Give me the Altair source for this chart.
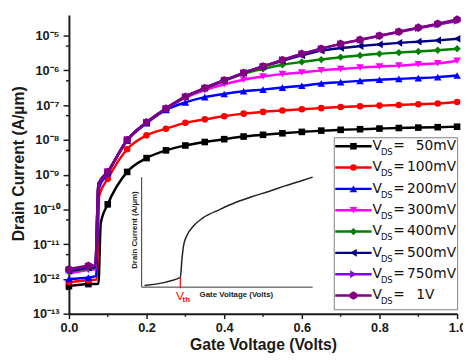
import altair as alt
import pandas as pd

# ---------------- data ----------------
VG = [0.0, 0.05, 0.1, 0.15, 0.2, 0.25, 0.3, 0.35, 0.4, 0.45, 0.5,
      0.55, 0.6, 0.65, 0.7, 0.75, 0.8, 0.85, 0.9, 0.95, 1.0]

SERIES = ["50mV", "100mV", "200mV", "300mV", "400mV", "500mV", "750mV", "1V"]
COLORS = ["#000000", "#ff0000", "#0000ff", "#ff00ff", "#008000", "#000080", "#8000ff", "#800080"]
HEX = "M0,-1L0.866,-0.5L0.866,0.5L0,1L-0.866,0.5L-0.866,-0.5Z"
SHAPES = ["square", "circle", "triangle-up", "triangle-down", "diamond",
          "triangle-left", "triangle-right", HEX]
SIZES = [45, 45, 60, 60, 55, 60, 60, 75]

ID_50 = [6.2e-13, 7.1e-13, 1.4e-10, 1.2e-9, 3.0e-9, 5.0e-9, 6.9e-9, 8.7e-9, 1.05e-8, 1.25e-8, 1.4e-8,
         1.55e-8, 1.7e-8, 1.85e-8, 1.95e-8, 2.03e-8, 2.12e-8, 2.2e-8, 2.26e-8, 2.32e-8, 2.4e-8]
ID_100 = [8.1e-13, 9.2e-13, 7.6e-10, 5.4e-9, 1.35e-8, 2.1e-8, 3.1e-8, 3.9e-8, 4.8e-8, 5.7e-8, 6.4e-8,
          7.0e-8, 7.6e-8, 8.2e-8, 8.8e-8, 9.3e-8, 9.7e-8, 1.01e-7, 1.06e-7, 1.11e-7, 1.23e-7]
ID_200 = [1.0e-12, 1.1e-12, 1.1e-9, 9.5e-9, 3.0e-8, 7.3e-8, 1.2e-7, 1.7e-7, 2.1e-7, 2.5e-7, 2.8e-7,
          3.2e-7, 3.6e-7, 4.2e-7, 4.6e-7, 5.0e-7, 5.4e-7, 5.7e-7, 6.0e-7, 6.4e-7, 7.1e-7]
ID_300 = [1.45e-12, 1.8e-12, 1.2e-9, 1.0e-8, 3.2e-8, 7.8e-8, 1.65e-7, 2.7e-7, 4.0e-7, 5.4e-7, 6.7e-7,
          7.8e-7, 8.7e-7, 1.0e-6, 1.1e-6, 1.2e-6, 1.3e-6, 1.37e-6, 1.5e-6, 1.6e-6, 1.9e-6]
ID_400 = [1.6e-12, 2.0e-12, 1.2e-9, 1.0e-8, 3.2e-8, 7.9e-8, 1.7e-7, 3.0e-7, 5.0e-7, 8.0e-7, 1.1e-6,
          1.45e-6, 1.75e-6, 2.05e-6, 2.4e-6, 2.7e-6, 3.0e-6, 3.25e-6, 3.5e-6, 3.8e-6, 4.2e-6]
ID_500 = [1.7e-12, 2.1e-12, 1.2e-9, 1.0e-8, 3.2e-8, 8.0e-8, 1.75e-7, 3.1e-7, 5.2e-7, 8.5e-7, 1.3e-6,
          1.9e-6, 2.7e-6, 3.7e-6, 4.4e-6, 5.0e-6, 5.6e-6, 6.2e-6, 6.7e-6, 7.3e-6, 8.1e-6]
ID_750 = [1.8e-12, 2.3e-12, 1.2e-9, 1.0e-8, 3.2e-8, 8.0e-8, 1.75e-7, 3.1e-7, 5.2e-7, 8.5e-7, 1.3e-6,
          2.0e-6, 3.0e-6, 4.2e-6, 5.8e-6, 7.5e-6, 9.8e-6, 1.27e-5, 1.63e-5, 2.08e-5, 2.65e-5]
ID_1V = [1.9e-12, 2.4e-12, 1.2e-9, 1.0e-8, 3.2e-8, 8.0e-8, 1.75e-7, 3.1e-7, 5.2e-7, 8.5e-7, 1.3e-6,
         2.0e-6, 3.0e-6, 4.2e-6, 5.8e-6, 7.6e-6, 1.0e-5, 1.3e-5, 1.7e-5, 2.2e-5, 2.9e-5]
CURRENTS = [ID_50, ID_100, ID_200, ID_300, ID_400, ID_500, ID_750, ID_1V]

# turn-on of each curve (unmarked points): end of the off-state, then top of the steep rise
STEP_X = [0.076, 0.072, 0.070, 0.069, 0.068, 0.068, 0.068, 0.068]
STEP_Y = [7.3e-13, 9.6e-13, 1.2e-12, 1.9e-12, 2.1e-12, 2.2e-12, 2.4e-12, 2.5e-12]
KNEE_X = [0.082, 0.078, 0.077, 0.076, 0.076, 0.076, 0.076, 0.076]
KNEE_Y = [4.0e-11, 2.5e-10, 4.0e-10, 5.0e-10, 5.5e-10, 5.5e-10, 5.5e-10, 5.5e-10]

XTICKS = [0.0, 0.2, 0.4, 0.6, 0.8, 1.0]
XMINOR = [0.1, 0.3, 0.5, 0.7, 0.9]
YEXP = [-13, -12, -11, -10, -9, -8, -7, -6, -5]
YMINOR = [5e-13, 5e-12, 5e-11, 5e-10, 5e-9, 5e-8, 5e-7, 5e-6]

# inset schematic (arbitrary units)
INSET_X = [0.017, 0.226, 0.236, 0.245, 0.264, 0.303, 0.36, 0.456, 0.552, 0.648, 0.743, 0.839, 0.935, 1.0]
INSET_Y = [0.015, 0.087, 0.259, 0.378, 0.467, 0.556, 0.631, 0.705, 0.771, 0.824, 0.869, 0.920, 0.967, 1.0]
VTH = 0.226

# ---------------- layout ----------------
W, H = 395, 304
FONT = "Liberation Sans"
AX = "#1a1a1a"

sup = str.maketrans("-0123456789", "⁻⁰¹²³⁴⁵⁶⁷⁸⁹")
YTICKS = [10.0 ** e for e in YEXP]
expr = "''"
for e in YEXP:
    expr = f"(round(log(datum.value)/LN10)=={e})?'10{str(e).translate(sup)}':" + expr

xs = alt.Scale(domain=[0, 1], nice=False, zero=False)
ys = alt.Scale(type="log", domain=[1e-13, 3.94e-5], nice=False)

xaxis = alt.Axis(values=XTICKS, format=".1f", grid=False, tickSize=5, tickWidth=1.5, tickColor=AX,
                 domainColor=AX, domainWidth=2, labelFont=FONT, labelFontWeight="bold",
                 labelFontSize=13, labelColor=AX, labelPadding=3, labelFlush=False,
                 labelOverlap=False, title="Gate Voltage (Volts)", titleFont=FONT,
                 titleFontSize=16, titleFontWeight="bold", titleColor=AX, titleX=W / 2,
                 titleY=31, titleBaseline="middle", titleAlign="center")
yaxis = alt.Axis(values=YTICKS, labelExpr=expr, grid=False, tickSize=6, tickWidth=1.5, tickColor=AX,
                 domainColor=AX, domainWidth=2, labelFont=FONT, labelFontWeight="bold",
                 labelFontSize=13, labelColor=AX, labelPadding=4, labelFlush=False,
                 labelOverlap=False, title="Drain Current (A/µm)", titleFont=FONT,
                 titleFontSize=16, titleFontWeight="bold", titleColor=AX, titleX=-51,
                 titleY=151, titleAngle=270, titleAlign="center", titleBaseline="middle")


def X(f="x"):
    return alt.X(f"{f}:Q", scale=xs, axis=xaxis)


def Y(f="y"):
    return alt.Y(f"{f}:Q", scale=ys, axis=yaxis)


layers = []
for i, name in enumerate(SERIES):
    xv = VG + [STEP_X[i], KNEE_X[i]]
    yv = CURRENTS[i] + [STEP_Y[i], KNEE_Y[i]]
    mk = [True] * len(VG) + [False, False]
    d = pd.DataFrame({"x": xv, "y": yv, "m": mk}).sort_values("x")
    layers.append(alt.Chart(d).mark_line(color=COLORS[i], strokeWidth=2.5, interpolate="monotone")
                  .encode(x=X(), y=Y()))
    layers.append(alt.Chart(d[d["m"]]).mark_point(filled=True, opacity=1, color=COLORS[i],
                                                  shape=SHAPES[i], size=SIZES[i], strokeWidth=0)
                  .encode(x=X(), y=Y()))

# minor ticks
layers.append(alt.Chart(pd.DataFrame({"x": XMINOR})).mark_rule(color=AX, strokeWidth=1.5)
              .encode(x=X(), y=alt.value(H), y2=alt.value(H + 3)))
layers.append(alt.Chart(pd.DataFrame({"y": YMINOR})).mark_rule(color=AX, strokeWidth=1.5)
              .encode(y=Y(), x=alt.value(0), x2=alt.value(-3)))

# custom legend (pixel placement)
LEG_TOP = 133.6
LEG_STEP = 21.7
leg = pd.DataFrame({
    "i": list(range(len(SERIES))),
    "ly": [LEG_TOP + LEG_STEP * i for i in range(len(SERIES))],
    "c": COLORS, "shp": SHAPES, "sz": SIZES, "lbl": SERIES,
})
PY = alt.Y("ly:Q", scale=None, axis=None)
CC = alt.Color("c:N", scale=None, legend=None)
layers.append(alt.Chart(pd.DataFrame({"a": [0]})).mark_rect(fill="white", stroke="#7f7f7f", strokeWidth=1)
              .encode(x=alt.value(270), x2=alt.value(395.5), y=alt.value(125), y2=alt.value(300)))
layers.append(alt.Chart(leg).mark_rule(strokeWidth=2.5)
              .encode(x=alt.value(271), x2=alt.value(308), y=PY, color=CC))
layers.append(alt.Chart(leg).mark_point(filled=True, opacity=1, strokeWidth=0)
              .encode(x=alt.value(289.5), y=PY, color=CC,
                      shape=alt.Shape("shp:N", scale=None, legend=None),
                      size=alt.Size("sz:Q", scale=None, legend=None)))
LFONT = "DejaVu Sans"
layers.append(alt.Chart(leg).mark_text(font=LFONT, fontSize=14, align="left", baseline="middle", color="#111")
              .encode(x=alt.value(309), y=PY, text=alt.value("V")))
layers.append(alt.Chart(leg).mark_text(font=LFONT, fontSize=8.5, align="left", baseline="middle", dy=6, color="#111")
              .encode(x=alt.value(317.5), y=PY, text=alt.value("DS")))
layers.append(alt.Chart(leg).mark_text(font=LFONT, fontSize=14, align="left", baseline="middle", color="#111")
              .encode(x=alt.value(330), y=PY, text=alt.value("=")))
layers.append(alt.Chart(leg).transform_filter("datum.i < 7")
              .mark_text(font=LFONT, fontSize=14, align="right", baseline="middle", color="#111")
              .encode(x=alt.value(394), y=PY, text="lbl:N"))
layers.append(alt.Chart(leg).transform_filter("datum.i == 7")
              .mark_text(font=LFONT, fontSize=14, align="right", baseline="middle", color="#111")
              .encode(x=alt.value(372), y=PY, text="lbl:N"))

main = alt.layer(*layers)

# ---------------- inset ----------------
ixs = alt.Scale(domain=[0, 1], range=[74, 248], nice=False, zero=False)
iys = alt.Scale(domain=[0, 1], range=[277, 165], nice=False, zero=False)


def IX(f="x"):
    return alt.X(f"{f}:Q", scale=ixs, axis=None)


def IY(f="y"):
    return alt.Y(f"{f}:Q", scale=iys, axis=None)


inset_axes = pd.DataFrame({"x": [0, 0], "y": [0, 0], "x2": [0, 1], "y2": [1, 0]})
inset_curve = pd.DataFrame({"x": INSET_X, "y": INSET_Y})
vth_line = pd.DataFrame({"x": [VTH], "y": [-0.01], "y2": [INSET_Y[1]]})
inset_txt = pd.DataFrame({
    "x": [0.339], "y": [-0.094], "t": ["Gate Voltage (Volts)"]})
inset = alt.layer(
    alt.Chart(inset_axes).mark_rule(color="#333", strokeWidth=1)
    .encode(x=IX(), y=IY(), x2="x2:Q", y2="y2:Q"),
    alt.Chart(inset_curve).mark_line(color="#222", strokeWidth=1.5, interpolate="monotone")
    .encode(x=IX(), y=IY()),
    alt.Chart(vth_line).mark_rule(color="#ff0000", strokeWidth=1.2)
    .encode(x=IX(), y=IY(), y2="y2:Q"),
    alt.Chart(inset_txt).mark_text(font=FONT, fontSize=8, fontWeight="bold", align="left",
                                   baseline="alphabetic", color="#222")
    .encode(x=IX(), y=IY(), text="t:N"),
    alt.Chart(pd.DataFrame({"x": [-0.04], "y": [0.518], "t": ["Drain Current (A/µm)"]}))
    .mark_text(font=FONT, fontSize=8, fontWeight="bold", angle=270, align="center",
               baseline="middle", color="#222")
    .encode(x=IX(), y=IY(), text="t:N"),
    alt.Chart(pd.DataFrame({"x": [0.201], "y": [-0.116], "t": ["V"]}))
    .mark_text(font=FONT, fontSize=12, align="left", baseline="alphabetic", color="#ff0000")
    .encode(x=IX(), y=IY(), text="t:N"),
    alt.Chart(pd.DataFrame({"x": [0.239], "y": [-0.134], "t": ["th"]}))
    .mark_text(font=FONT, fontSize=8, fontWeight="bold", align="left", baseline="alphabetic", color="#ff0000")
    .encode(x=IX(), y=IY(), text="t:N"),
)

chart = (
    alt.layer(main, inset)
    .resolve_scale(x="independent", y="independent")
    .properties(width=W, height=H, autosize=alt.AutoSizeParams(type="none"),
                padding={"left": 62, "top": 4, "right": 6, "bottom": 40}, background="white")
    .configure_view(strokeWidth=0)
)

chart.save("out.html", embed_options={"renderer": "svg", "actions": False})
